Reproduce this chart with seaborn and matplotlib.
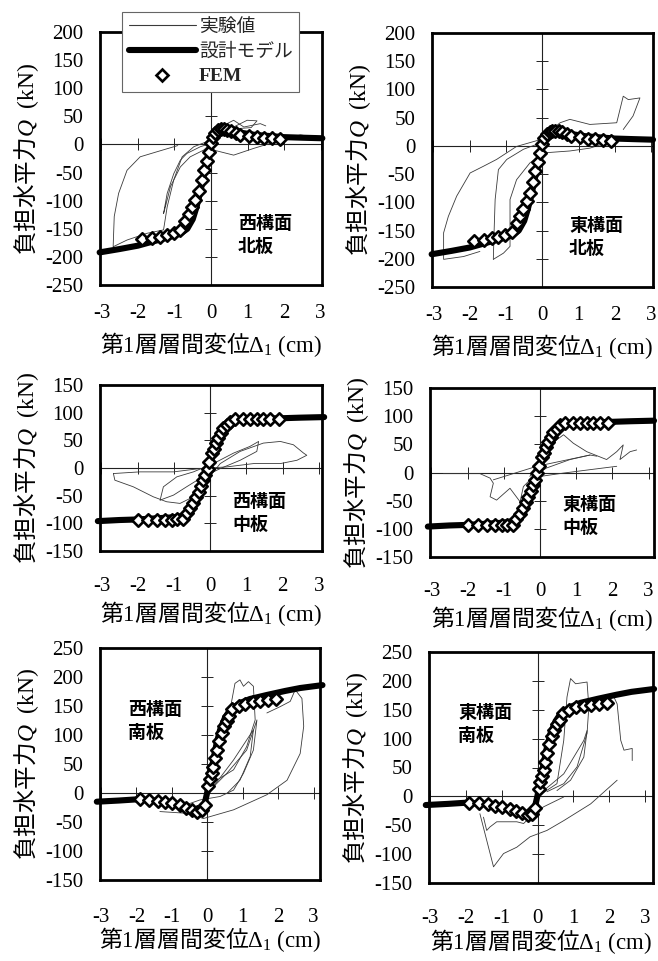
import matplotlib
matplotlib.use("Agg")
import matplotlib.pyplot as plt
import seaborn as sns
import numpy as np
import pandas as pd
from matplotlib.lines import Line2D

sns.set_theme(style="white")
plt.rcParams["font.family"] = ["Liberation Serif", "Noto Sans CJK JP"]
plt.rcParams["mathtext.fontset"] = "custom"
plt.rcParams["mathtext.rm"] = "Liberation Serif"
plt.rcParams["mathtext.it"] = "Liberation Serif:italic"
plt.rcParams["mathtext.bf"] = "Liberation Serif:bold"
plt.rcParams["axes.unicode_minus"] = False

# ---------------- data ----------------
x_ticks = [-3, -2, -1, 0, 1, 2, 3]
y_ticks_top = [-250, -200, -150, -100, -50, 0, 50, 100, 150, 200]
y_ticks_mid = [-150, -100, -50, 0, 50, 100, 150]
y_ticks_bot = [-150, -100, -50, 0, 50, 100, 150, 200, 250]

panel_labels = ["西構面\n北板", "東構面\n北板", "西構面\n中板", "東構面\n中板", "西構面\n南板", "東構面\n南板"]
x_label = r"第$\mathrm{1}$層層間変位$\Delta_{1}\ \mathrm{(cm)}$"
y_label = r"負担水平力$Q\ \ \mathrm{(kN)}$"
legend_labels = ["実験値", "設計モデル", "FEM"]

# design model (北板)
d1_x = [-3.05, -2.5, -2.0, -1.5, -1.0, -0.8, -0.65, -0.5, -0.4, -0.3, -0.2, -0.1, 0.0, 0.1, 0.2, 0.3, 0.5, 0.8, 1.2, 1.6, 2.0, 2.5, 3.05]
d1_y = [-192, -186, -180, -171, -162, -157, -150, -133, -112, -86, -56, -26, 2, 20, 26, 28, 25, 21, 17, 15, 13, 12, 11]
# FEM (北板)
f1_x = [-1.89, -1.62, -1.39, -1.21, -1.02, -0.84, -0.70, -0.61, -0.52, -0.43, -0.34, -0.26, -0.19, -0.12, -0.06, 0.0,
        0.06, 0.12, 0.2, 0.28, 0.36, 0.45, 0.55, 0.68, 0.8, 1.03, 1.26, 1.46, 1.67, 1.9]
f1_y = [-169, -166, -164, -161, -158, -152, -137, -124, -111, -98, -83, -64, -45, -29, -13, 3,
        14, 21, 25, 27, 27, 26, 24, 21, 17, 15, 13, 12, 11, 9]

# design model (中板)
d2_x = [-3.1, -2.5, -2.0, -1.5, -1.0, -0.8, -0.6, -0.45, -0.3, -0.15, 0.0, 0.15, 0.3, 0.45, 0.6, 0.8, 1.0, 1.5, 2.0, 2.5, 3.15]
d2_y = [-96, -94, -93, -91, -89, -87, -80, -70, -50, -20, 8, 40, 62, 75, 83, 87, 88, 89, 90, 91, 92]
# FEM (中板)
f2_x = [-1.98, -1.71, -1.47, -1.24, -1.06, -0.92, -0.76, -0.65, -0.55, -0.46, -0.39, -0.32, -0.25, -0.2, -0.14, -0.07, -0.02,
        0.05, 0.1, 0.17, 0.23, 0.29, 0.37, 0.46, 0.56, 0.69, 0.92, 1.11, 1.29, 1.47, 1.66, 1.89]
f2_y = [-94, -94, -94, -94, -94, -93, -93, -82, -73, -63, -52, -43, -33, -22, -13, -1, 11,
        27, 34, 45, 54, 63, 72, 78, 84, 88, 88, 88, 88, 88, 88, 88]

# design model (南板)
d3_x = [-3.12, -2.5, -2.0, -1.5, -1.0, -0.6, -0.3, -0.1, 0.0, 0.08, 0.17, 0.26, 0.36, 0.5, 0.64, 0.8, 0.92, 1.2, 1.68, 2.2, 2.62, 3.25]
d3_y = [-15, -13, -11, -13, -18, -25, -35, -25, 2, 30, 57, 85, 109, 130, 143, 150, 155, 162, 169, 176, 181, 186]
# FEM (南板)
f3_x = [-1.9, -1.64, -1.39, -1.2, -1.0, -0.77, -0.6, -0.44, -0.28, -0.16, -0.07, 0.03, 0.07, 0.12, 0.17, 0.22, 0.27, 0.33,
        0.4, 0.47, 0.55, 0.62, 0.7, 0.88, 1.06, 1.29, 1.48, 1.71, 1.94]
f3_y = [-11, -12, -14, -16, -18, -21, -25, -29, -32, -30, -20, 12, 25, 35, 45, 60, 75, 90,
        104, 115, 125, 133, 145, 150, 154, 157, 159, 160, 162]

# experiments (実験値) : west north
ewn_a_x = [-0.91, -1.48, -1.94, -2.3, -2.53, -2.65, -2.68, -2.3, -1.75, -1.3, -1.2, -1.02, -0.79, -0.47, -0.11, 0.07, 0.44, 0.62, 0.9, 1.35, 1.5]
ewn_a_y = [-2, -13, -22, -46, -87, -128, -182, -170, -158, -152, -111, -63, -22, -4, 5, 17, 37, 43, 31, 37, 33]
ewn_b_x = [-1.3, -1.2, -1.02, -0.84, -0.66, -0.29, 0.0, -0.2, -0.57, -0.84, -1.11, -1.25, -1.3]
ewn_b_y = [-123, -87, -52, -28, -16, -4, 2, -10, -22, -40, -75, -111, -123]
ewn_c_x = [0.0, 0.07, 0.62, 1.17, 2.08, 2.45, 2.72]
ewn_c_y = [-2, -10, -19, -7, 11, 17, 14]
ewn_d_x = [0.05, 0.16, 0.62, 0.99, 1.26, 1.1, 0.7, 0.3]
ewn_d_y = [10, 20, 31, 43, 42, 30, 28, 18]
# east north
een_a_x = [-0.06, -0.71, -1.26, -1.62, -1.99, -2.36, -2.59, -2.72, -2.72, -2.17, -1.72]
een_a_y = [11, -1, -24, -36, -48, -89, -125, -154, -201, -196, -187]
een_b_x = [-1.35, -1.33, -1.3, -1.21, -0.98, -0.52, -0.06]
een_b_y = [-201, -154, -95, -42, -24, -6, 5]
een_c_x = [-1.35, -1.07, -0.89, -0.89, -0.71, -0.34, -0.06]
een_c_y = [-201, -190, -178, -95, -60, -30, -18]
een_d_x = [0.03, 0.49, 0.76, 1.31, 2.05, 2.23, 2.37, 2.69, 2.5, 2.23]
een_d_y = [17, 41, 47, 38, 41, 88, 82, 85, 53, 29]
een_e_x = [-0.06, 0.12, 0.76, 1.31, 2.05]
een_e_y = [-18, -12, -9, -4, 11]
# west middle
ewm_a_x = [-2.67, -2.63, -2.12, -1.57, -1.2, -0.83, -0.46, -0.09, 0.28, 0.83, 1.47, 1.94, 2.3, 2.58, 2.67, 2.4, 1.94, 1.2, 0.46, -0.28, -1.01, -1.94, -2.67]
ewm_a_y = [-10, -22, -34, -52, -61, -64, -52, -22, 8, 30, 45, 48, 42, 27, 23, 14, 8, 8, 2, -1, -7, -7, -10]
ewm_b_x = [-1.38, -1.29, -0.92, -0.46, 0.09, 0.65, 1.1, 1.34, 1.29, 0.83, 0.28, -0.28, -0.65, -1.01, -1.38]
ewm_b_y = [-58, -34, -16, -7, 8, 27, 39, 48, 30, 14, -1, -19, -34, -49, -58]
# east middle
eem_a_x = [-2.67, -1.66, -1.38, -1.29, -1.38, -1.2, -0.83, -0.55, -0.46, -0.18, 0.18, 0.83, 1.38, 1.57]
eem_a_y = [-2, -2, -10, -19, -43, -49, -28, -52, -25, -7, 8, 23, 31, 29]
eem_b_x = [-0.28, 0.09, 0.46, 0.65, 0.92, 1.29, 1.84, 2.12, 2.3, 2.21, 2.49, 2.67]
eem_b_y = [-7, 34, 58, 67, 52, 37, 23, 37, 49, 23, 37, 40]
eem_c_x = [0.0, 0.65, 1.38, 2.12]
eem_c_y = [-7, -1, 5, 11]
eem_d_x = [-1.29, -0.09, 1.38]
eem_d_y = [-13, 11, 31]
# west south
ews_a_x = [-1.34, -0.58, -0.11, 0.74, 1.68, 2.25, 2.62, 2.72, 2.67, 2.48, 2.34, 2.06, 1.68]
ews_a_y = [-32, -35, -44, -29, -3, 22, 68, 115, 163, 178, 158, 149, 138]
ews_b_x = [0.64, 0.78, 0.92, 1.02, 1.16, 1.3, 1.35, 1.11, 0.74, 0.26, -0.02]
ews_b_y = [143, 189, 195, 184, 192, 184, 126, 80, 40, 22, 5]
ews_c_x = [0.0, 0.55, 1.11, 1.4, 1.3, 1.02, 0.74, 0.36, -0.21, -0.77]
ews_c_y = [0, 34, 74, 126, 74, 34, 5, -6, -12, -24]
ews_d_x = [0.17, 0.74, 1.3, 1.21, 0.92, 0.55]
ews_d_y = [11, 57, 109, 63, 22, -1]
# east south
ees_a_x = [-1.61, -1.23, -0.95, -0.58, -0.21, 0.26, 0.73, 1.48, 2.22]
ees_a_y = [-30, -122, -99, -88, -70, -59, -42, -13, 28]
ees_b_x = [-1.51, -1.42, -1.33, -1.14, -0.58, -0.39, -0.21, 0.17, 0.73]
ees_b_y = [-36, -59, -53, -44, -44, -47, -36, -18, -1]
ees_c_x = [-0.02, 0.54, 0.73, 0.82, 0.92, 1.06, 1.38, 1.43, 1.38, 1.1, 0.73, 0.26]
ees_c_y = [-1, 22, 97, 172, 204, 195, 198, 155, 109, 51, 22, 8]
ees_d_x = [1.66, 2.13, 2.22, 2.32, 2.41, 2.64, 2.64]
ees_d_y = [166, 172, 160, 97, 80, 83, 62]
ees_e_x = [0.17, 0.73, 1.29, 1.38, 1.29, 0.92, 0.54]
ees_e_y = [10, 39, 97, 114, 68, 28, 10]

panels = [
    dict(rect=[100, 32, 322, 285], xlim=(-3.04, 3.04), ylim=(-250, 200), yt=y_ticks_top, d=(d1_x, d1_y), f=(f1_x, f1_y),
         e=[(ewn_a_x, ewn_a_y), (ewn_b_x, ewn_b_y), (ewn_c_x, ewn_c_y), (ewn_d_x, ewn_d_y)], lab=(0.62, 0.28), pad=14, xlp=5),
    dict(rect=[432, 33, 653, 287], xlim=(-3.04, 3.05), ylim=(-250, 200), yt=y_ticks_top, d=(d1_x, d1_y), f=(f1_x, f1_y),
         e=[(een_a_x, een_a_y), (een_b_x, een_b_y), (een_c_x, een_c_y), (een_d_x, een_d_y), (een_e_x, een_e_y)], lab=(0.62, 0.28), pad=14, xlp=5),
    dict(rect=[100, 385, 322, 551], xlim=(-3.04, 3.09), ylim=(-150, 150), yt=y_ticks_mid, d=(d2_x, d2_y), f=(f2_x, f2_y),
         e=[(ewm_a_x, ewm_a_y), (ewm_b_x, ewm_b_y)], lab=(0.595, 0.355), pad=19, xlp=2),
    dict(rect=[430, 388, 654, 557], xlim=(-3.04, 3.15), ylim=(-150, 150), yt=y_ticks_mid, d=(d2_x, d2_y), f=(f2_x, f2_y),
         e=[(eem_a_x, eem_a_y), (eem_b_x, eem_b_y), (eem_c_x, eem_c_y), (eem_d_x, eem_d_y)], lab=(0.59, 0.367), pad=18, xlp=2),
    dict(rect=[100, 648, 320, 880], xlim=(-3.03, 3.18), ylim=(-150, 250), yt=y_ticks_bot, d=(d3_x, d3_y), f=(f3_x, f3_y),
         e=[(ews_a_x, ews_a_y), (ews_b_x, ews_b_y), (ews_c_x, ews_c_y), (ews_d_x, ews_d_y)], lab=(0.127, 0.776), pad=20, xlp=-1),
    dict(rect=[429, 652, 653, 883], xlim=(-3.03, 3.22), ylim=(-150, 250), yt=y_ticks_bot, d=(d3_x, d3_y), f=(f3_x, f3_y),
         e=[(ees_a_x, ees_a_y), (ees_b_x, ees_b_y), (ees_c_x, ees_c_y), (ees_d_x, ees_d_y), (ees_e_x, ees_e_y)], lab=(0.13, 0.78), pad=19, xlp=-1),
]

W, H = 658, 961
fig = plt.figure(figsize=(W / 100, H / 100), dpi=100)
fig.patch.set_facecolor("white")

for i, p in enumerate(panels):
    l, t, r, b = p["rect"]
    rect = [l / W, 1 - b / H, (r - l) / W, (b - t) / H]
    # zero-line axes with crossing ticks
    axz = fig.add_axes(rect)
    axz.set_facecolor("white")
    axz.set_xlim(*p["xlim"])
    axz.set_ylim(*p["ylim"])
    for s in ["top", "right"]:
        axz.spines[s].set_visible(False)
    for s in ["left", "bottom"]:
        axz.spines[s].set_position(("data", 0))
        axz.spines[s].set_linewidth(0.8)
        axz.spines[s].set_color("#222222")
    axz.set_xticks(x_ticks)
    axz.set_yticks(p["yt"])
    axz.tick_params(axis="both", direction="inout", length=8, width=0.7, color="#222222",
                    labelleft=False, labelbottom=False, left=True, bottom=True)

    ax = fig.add_axes(rect, label=f"main{i}")
    ax.patch.set_alpha(0)
    ax.set_xlim(*p["xlim"])
    ax.set_ylim(*p["ylim"])
    ax.set_xticks(x_ticks)
    ax.set_yticks(p["yt"])
    ax.set_xticklabels([str(v) for v in x_ticks])
    ax.set_yticklabels([str(v) for v in p["yt"]])
    for s in ax.spines.values():
        s.set_linewidth(2.0)
        s.set_color("black")
    ax.tick_params(axis="both", length=0, labelsize=15, colors="black")
    ax.tick_params(axis="x", pad=p["pad"])
    ax.tick_params(axis="y", pad=12)

    for ex, ey in p["e"]:
        sns.lineplot(x=ex, y=ey, sort=False, estimator=None, ax=ax, color="#3a3a3a", linewidth=0.6)
    dx, dy = p["d"]
    sns.lineplot(x=dx, y=dy, sort=False, estimator=None, ax=ax, color="black", linewidth=4.4, clip_on=False)
    fx, fy = p["f"]
    sns.scatterplot(x=fx, y=fy, ax=ax, marker="D", s=40, facecolor="white", edgecolor="black", linewidth=1.9, zorder=5)

    ax.set_xlabel(x_label, fontsize=16.5, labelpad=p["xlp"], color="black", family=["Noto Sans CJK JP", "Liberation Serif"])
    ax.set_ylabel(y_label, fontsize=17, labelpad=3, color="black", family=["Noto Sans CJK JP", "Liberation Serif"])
    ax.text(p["lab"][0], p["lab"][1], panel_labels[i], transform=ax.transAxes, ha="left", va="top",
            fontsize=13, fontweight="bold", family=["Noto Sans CJK JP"], linespacing=1.25, color="black")

handles = [Line2D([], [], color="#3a3a3a", linewidth=0.8),
           Line2D([], [], color="black", linewidth=4.4),
           Line2D([], [], color="black", marker="D", linestyle="none", markersize=6,
                  markerfacecolor="white", markeredgewidth=1.9)]
leg = fig.legend(handles=handles, labels=legend_labels, loc="upper left",
                 bbox_to_anchor=(122 / W, 1 - 12 / H), frameon=True, fancybox=False, framealpha=1,
                 edgecolor="#666666", fontsize=13.5, handlelength=3.6, handletextpad=0.15,
                 borderpad=0.35, labelspacing=0.4, borderaxespad=0)
leg.get_frame().set_linewidth(0.8)
leg.get_texts()[2].set_fontweight("bold")
leg.get_texts()[2].set_fontsize(14)

fig.savefig("out.png", dpi=100, facecolor="white")
